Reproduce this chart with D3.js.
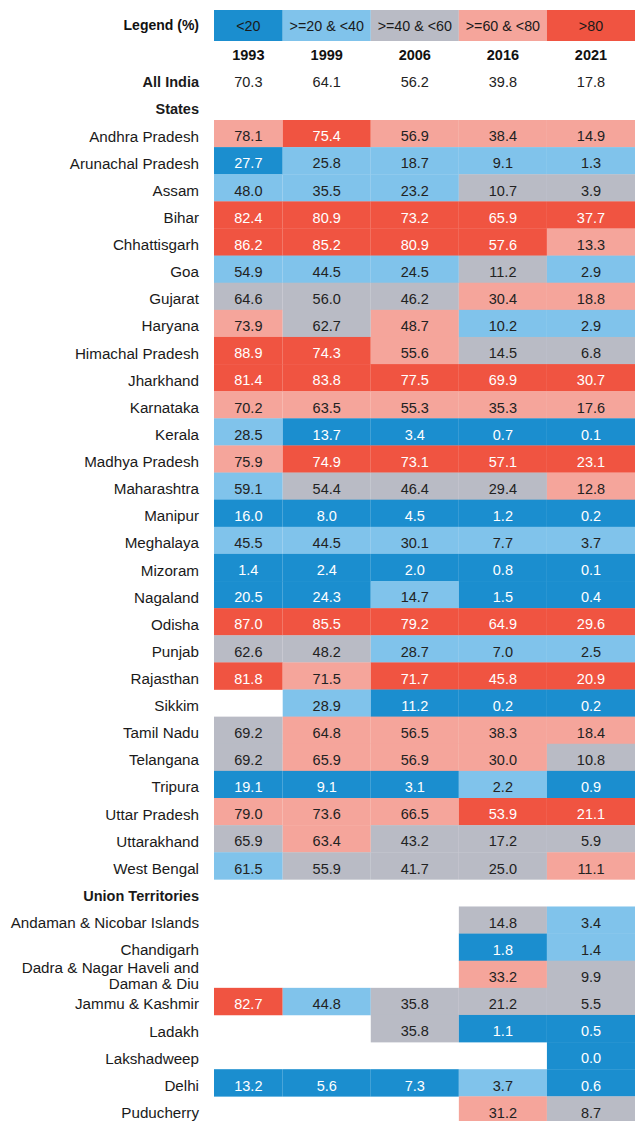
<!DOCTYPE html>
<html><head><meta charset="utf-8">
<script src="https://cdn.jsdelivr.net/npm/d3@7/dist/d3.min.js"></script>
<style>
html,body{margin:0;padding:0;background:#fff;}
svg{display:block;font-family:"Liberation Sans",Arial,sans-serif;}
</style></head>
<body><svg id="chart" width="635" height="1121"></svg>
<script>
const years = ["1993", "1999", "2006", "2016", "2021"];
const legendTitle = "Legend (%)";
const legendLabels = ["<20", ">=20 & <40", ">=40 & <60", ">=60 & <80", ">80"];
const allIndia = [70.3, 64.1, 56.2, 39.8, 17.8];

const states = ["Andhra Pradesh","Arunachal Pradesh","Assam","Bihar","Chhattisgarh","Goa","Gujarat","Haryana","Himachal Pradesh","Jharkhand","Karnataka","Kerala","Madhya Pradesh","Maharashtra","Manipur","Meghalaya","Mizoram","Nagaland","Odisha","Punjab","Rajasthan","Sikkim","Tamil Nadu","Telangana","Tripura","Uttar Pradesh","Uttarakhand","West Bengal"];
const stateValues = [
  [78.1,75.4,56.9,38.4,14.9],
  [27.7,25.8,18.7,9.1,1.3],
  [48.0,35.5,23.2,10.7,3.9],
  [82.4,80.9,73.2,65.9,37.7],
  [86.2,85.2,80.9,57.6,13.3],
  [54.9,44.5,24.5,11.2,2.9],
  [64.6,56.0,46.2,30.4,18.8],
  [73.9,62.7,48.7,10.2,2.9],
  [88.9,74.3,55.6,14.5,6.8],
  [81.4,83.8,77.5,69.9,30.7],
  [70.2,63.5,55.3,35.3,17.6],
  [28.5,13.7,3.4,0.7,0.1],
  [75.9,74.9,73.1,57.1,23.1],
  [59.1,54.4,46.4,29.4,12.8],
  [16.0,8.0,4.5,1.2,0.2],
  [45.5,44.5,30.1,7.7,3.7],
  [1.4,2.4,2.0,0.8,0.1],
  [20.5,24.3,14.7,1.5,0.4],
  [87.0,85.5,79.2,64.9,29.6],
  [62.6,48.2,28.7,7.0,2.5],
  [81.8,71.5,71.7,45.8,20.9],
  [null,28.9,11.2,0.2,0.2],
  [69.2,64.8,56.5,38.3,18.4],
  [69.2,65.9,56.9,30.0,10.8],
  [19.1,9.1,3.1,2.2,0.9],
  [79.0,73.6,66.5,53.9,21.1],
  [65.9,63.4,43.2,17.2,5.9],
  [61.5,55.9,41.7,25.0,11.1]
];
// legend class index of each cell (0 = "<20" ... 4 = ">80"), as shown in the source
const stateClasses = [
  [3,4,3,3,3],
  [0,1,1,1,1],
  [1,1,1,2,2],
  [4,4,4,4,4],
  [4,4,4,4,3],
  [1,1,1,2,1],
  [2,2,2,3,3],
  [3,2,3,1,1],
  [4,4,3,2,2],
  [4,4,4,4,4],
  [3,3,3,3,3],
  [1,0,0,0,0],
  [3,4,4,4,4],
  [1,2,2,2,3],
  [0,0,0,0,0],
  [1,1,1,1,1],
  [0,0,0,0,0],
  [0,0,1,0,0],
  [4,4,4,4,4],
  [2,2,1,1,1],
  [4,3,4,4,4],
  [null,1,0,0,0],
  [2,3,3,3,3],
  [2,3,3,3,2],
  [0,0,0,1,0],
  [3,3,3,4,4],
  [2,3,2,2,2],
  [1,2,2,2,3]
];

const uts = ["Andaman & Nicobar Islands","Chandigarh","Dadra & Nagar Haveli and\nDaman & Diu","Jammu & Kashmir","Ladakh","Lakshadweep","Delhi","Puducherry"];
const utValues = [
  [null,null,null,14.8,3.4],
  [null,null,null,1.8,1.4],
  [null,null,null,33.2,9.9],
  [82.7,44.8,35.8,21.2,5.5],
  [null,null,35.8,1.1,0.5],
  [null,null,null,null,0.0],
  [13.2,5.6,7.3,3.7,0.6],
  [null,null,null,31.2,8.7]
];
const utClasses = [
  [null,null,null,2,1],
  [null,null,null,0,1],
  [null,null,null,3,2],
  [4,1,2,2,2],
  [null,null,2,0,0],
  [null,null,null,null,0],
  [0,0,0,1,0],
  [null,null,null,3,2]
];

// ---------- build row list ----------
const rows = [];
rows.push({key:"__years", type:"years"});
rows.push({key:"All India", type:"total", label:"All India", values:allIndia});
rows.push({key:"__states", type:"section", label:"States"});
states.forEach((s,i)=>rows.push({key:s, type:"data", label:s, values:stateValues[i], classes:stateClasses[i]}));
rows.push({key:"__uts", type:"section", label:"Union Territories"});
uts.forEach((s,i)=>rows.push({key:s, type:"data", label:s, values:utValues[i], classes:utClasses[i]}));

// ---------- scales ----------
const svg = d3.select("#chart");
const x = d3.scaleLinear().domain([0, 1, years.length]).range([214, 282.7, 635]);
const rowH = 27.12;
const y = d3.scaleBand().domain(rows.map(r=>r.key)).range([38.64, 38.64 + rows.length*rowH]).padding(0);
const color = d3.scaleOrdinal().domain([0,1,2,3,4]).range(["#1b8ecf","#80c3eb","#b9bbc5","#f5a59b","#f05441"]);
const textColor = c => (c === 0 || c === 4) ? "#ffffff" : "#222222";
const labelX = 199;
const tOff = 2.7;

// ---------- legend ----------
const lg = svg.append("g");
lg.append("text").attr("x", labelX).attr("y", 25.5).attr("dy","0.35em")
  .attr("text-anchor","end").attr("font-weight","bold").attr("font-size",14).attr("fill","#111")
  .text(legendTitle);
lg.selectAll("rect").data(legendLabels).join("rect")
  .attr("x",(d,i)=>x(i)).attr("width",(d,i)=>x(i+1)-x(i))
  .attr("y",10).attr("height",31)
  .attr("fill",(d,i)=>color(i));
lg.selectAll("text.lab").data(legendLabels).join("text").attr("class","lab")
  .attr("x",(d,i)=>(x(i)+x(i+1))/2).attr("y",25.5).attr("dy","0.35em")
  .attr("text-anchor","middle").attr("font-size",14.3).attr("fill","#1a1a1a")
  .text(d=>d);

// ---------- rows ----------
const cy = k => y(k) + y.bandwidth()/2 + tOff;
const g = svg.append("g");

rows.forEach(r=>{
  const rg = g.append("g");
  if (r.type === "years") {
    rg.selectAll("text").data(years).join("text")
      .attr("x",(d,i)=>(x(i)+x(i+1))/2).attr("y",cy(r.key)).attr("dy","0.35em")
      .attr("text-anchor","middle").attr("font-weight","bold").attr("font-size",14.5).attr("fill","#111")
      .text(d=>d);
    return;
  }
  const lines = r.label.split("\n");
  const lt = rg.append("text").attr("x",labelX).attr("text-anchor","end")
    .attr("font-size", r.type === "data" ? 15.2 : 14.5)
    .attr("font-weight", r.type === "data" ? "normal" : "bold")
    .attr("fill","#1a1a1a");
  if (lines.length === 1) {
    lt.attr("y",cy(r.key)).attr("dy","0.35em").text(r.label);
  } else {
    lines.forEach((ln,j)=>{
      lt.append("tspan").attr("x",labelX)
        .attr("y", cy(r.key) + (j === 0 ? -9.2 : 6.3)).attr("dy","0.35em").text(ln);
    });
  }
  if (r.type === "section") return;
  const cells = years.map((yr,i)=>({i, v:r.values[i], c:r.classes ? r.classes[i] : null})).filter(d=>d.v !== null);
  if (r.type === "data") {
    rg.selectAll("rect").data(cells).join("rect")
      .attr("x",d=>x(d.i)).attr("width",d=>x(d.i+1)-x(d.i))
      .attr("y",y(r.key)).attr("height",y.bandwidth()+0.3)
      .attr("fill",d=>color(d.c));
  }
  rg.selectAll("text.v").data(cells).join("text").attr("class","v")
    .attr("x",d=>(x(d.i)+x(d.i+1))/2).attr("y",cy(r.key)).attr("dy","0.35em")
    .attr("text-anchor","middle").attr("font-size",14.5)
    .attr("fill",d=> r.type === "data" ? textColor(d.c) : "#222")
    .text(d=>d.v.toFixed(1));
});
</script>
</body></html>
